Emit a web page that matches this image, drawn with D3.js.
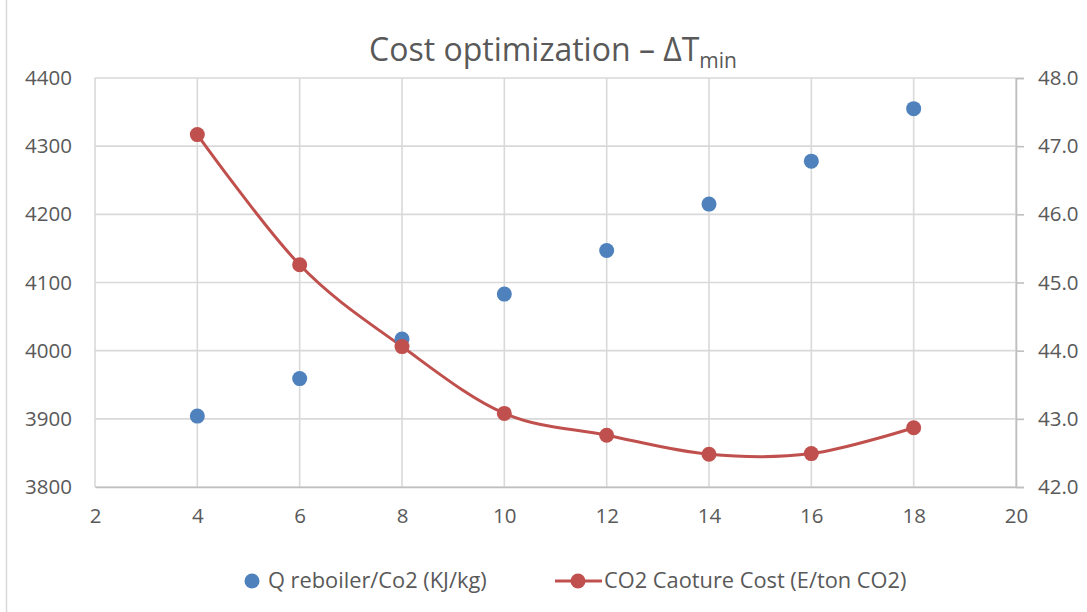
<!DOCTYPE html>
<html>
<head>
<meta charset="utf-8">
<script src="https://cdn.jsdelivr.net/npm/d3@7/dist/d3.min.js"></script>
<style>
  html, body { margin: 0; padding: 0; background: #fff; }
  svg { display: block; }
  text { font-family: "Open Sans", "Noto Sans", sans-serif; fill: #595959; }
</style>
</head>
<body>
<svg id="chart" width="1087" height="612"></svg>
<script>
// ΔTmin values (x) shared by both series
const deltaT = [4, 6, 8, 10, 12, 14, 16, 18];
// Reboiler duty per kg CO2 (left axis)
const qReboiler = [3904, 3959, 4017, 4083, 4147, 4215, 4278, 4355];
// Capture cost (right axis)
const captureCost = [47.17, 45.26, 44.06, 43.08, 42.76, 42.48, 42.49, 42.87];

const xTicks = [2, 4, 6, 8, 10, 12, 14, 16, 18, 20];
const leftTicks = [3800, 3900, 4000, 4100, 4200, 4300, 4400];
const rightTicks = [42, 43, 44, 45, 46, 47, 48];

const seriesNames = ["Q reboiler/Co2 (KJ/kg)", "CO2 Caoture Cost (E/ton CO2)"];
const blue = "#4F81BD", red = "#C0504D";
const labelSize = 20.5;

const svg = d3.select("#chart");
const plot = { left: 95, right: 1016, top: 78, bottom: 487 };

const x = d3.scaleLinear().domain([2, 20]).range([plot.left, plot.right]);
const yL = d3.scaleLinear().domain([3800, 4400]).range([plot.bottom, plot.top]);
const yR = d3.scaleLinear().domain([42, 48]).range([plot.bottom, plot.top]);

// outer chart frame edge
svg.append("line").attr("x1", 6.5).attr("x2", 6.5).attr("y1", 0).attr("y2", 612)
  .attr("stroke", "#D9D9D9").attr("stroke-width", 1.5);

// gridlines
const grid = svg.append("g");
grid.selectAll(".hg").data(leftTicks).join("line")
  .attr("x1", plot.left).attr("x2", plot.right)
  .attr("y1", d => yL(d)).attr("y2", d => yL(d))
  .attr("stroke", "#D9D9D9").attr("stroke-width", 1.6);
grid.selectAll(".vg").data(xTicks).join("line")
  .attr("x1", d => x(d)).attr("x2", d => x(d))
  .attr("y1", plot.top).attr("y2", plot.bottom)
  .attr("stroke", "#D9D9D9").attr("stroke-width", 1.6);

function styleLabels(g) {
  g.selectAll("text").attr("font-size", labelSize).style("fill", "#595959")
    .attr("font-family", "'Open Sans', sans-serif");
}

// bottom axis
const xAxis = svg.append("g").attr("transform", `translate(0,${plot.bottom})`)
  .call(d3.axisBottom(x).tickValues(xTicks).tickSize(0).tickPadding(21).tickFormat(d3.format("d")));
xAxis.select(".domain").attr("stroke", "#BFBFBF").attr("stroke-width", 1.6);
styleLabels(xAxis);

// left axis
const lAxis = svg.append("g").attr("transform", `translate(${plot.left},0)`)
  .call(d3.axisLeft(yL).tickValues(leftTicks).tickSize(0).tickPadding(23).tickFormat(d3.format("d")));
lAxis.select(".domain").remove();
styleLabels(lAxis);

// right axis with outside ticks
const rAxis = svg.append("g").attr("transform", `translate(${plot.right},0)`)
  .call(d3.axisRight(yR).tickValues(rightTicks).tickSizeInner(8).tickSizeOuter(8).tickPadding(14).tickFormat(d3.format(".1f")));
rAxis.select(".domain").attr("stroke", "#BFBFBF").attr("stroke-width", 1.6);
rAxis.selectAll(".tick line").attr("stroke", "#BFBFBF").attr("stroke-width", 1.6);
styleLabels(rAxis);

// cost curve (smoothed)
const costData = deltaT.map((d, i) => [d, captureCost[i]]);
svg.append("path").datum(costData)
  .attr("fill", "none").attr("stroke", red).attr("stroke-width", 3)
  .attr("d", d3.line().x(d => x(d[0])).y(d => yR(d[1])).curve(d3.curveCatmullRom.alpha(0)));

// reboiler duty points
svg.append("g").selectAll("circle").data(deltaT.map((d, i) => [d, qReboiler[i]])).join("circle")
  .attr("cx", d => x(d[0])).attr("cy", d => yL(d[1])).attr("r", 7.5).attr("fill", blue);

// cost markers
svg.append("g").selectAll("circle").data(costData).join("circle")
  .attr("cx", d => x(d[0])).attr("cy", d => yR(d[1])).attr("r", 7.5).attr("fill", red);

// title with subscript
const title = svg.append("text").attr("x", 553).attr("y", 61).attr("text-anchor", "middle")
  .attr("font-size", 32).style("fill", "#595959");
title.append("tspan").text("Cost optimization – ΔT");
title.append("tspan").attr("font-size", 21).attr("dy", 7).text("min");

// legend
const lg = svg.append("g").attr("font-size", 21.8);
lg.append("circle").attr("cx", 252).attr("cy", 581).attr("r", 7.5).attr("fill", blue);
lg.append("text").attr("x", 268).attr("y", 588).text(seriesNames[0]);
lg.append("line").attr("x1", 555).attr("x2", 602).attr("y1", 581).attr("y2", 581)
  .attr("stroke", red).attr("stroke-width", 3);
lg.append("circle").attr("cx", 578).attr("cy", 581).attr("r", 7.5).attr("fill", red);
lg.append("text").attr("x", 604).attr("y", 588).text(seriesNames[1]);
</script>
</body>
</html>
